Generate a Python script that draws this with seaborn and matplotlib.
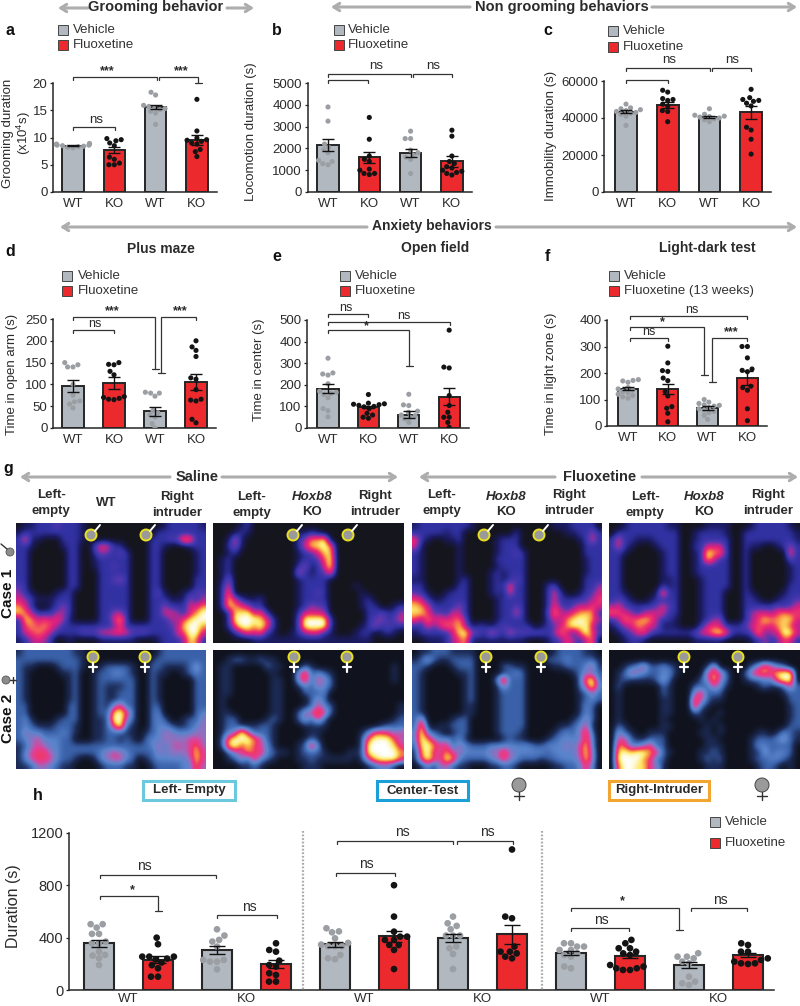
#Import packages
import matplotlib
matplotlib.use("Agg")
import matplotlib.pyplot as plt
from matplotlib.colors import LinearSegmentedColormap
from matplotlib.patches import Circle, Rectangle
import numpy as np
import pandas as pd
import seaborn as sns

#Bar groups, left to right
groups_4 = ["g1", "g2", "g3", "g4"]
groups_12 = ["g%d" % i for i in range(1, 13)]
labels_4 = ["WT", "KO", "WT", "KO"]
labels_h = ["WT", "KO", "WT", "KO", "WT", "KO"]

#Panel a: grooming
a_means = [8.5, 7.7, 15.6, 9.5]
a_sems = [0.15, 0.5, 0.45, 0.9]
a_points = [
    [8.1, 8.2, 8.3, 8.4, 8.5, 8.6, 8.6, 8.7, 8.8, 8.8, 8.9],
    [9.8, 9.6, 9.4, 9.0, 8.5, 6.4, 6.0, 5.3, 5.0, 5.0],
    [18.3, 17.8, 15.9, 15.7, 15.5, 15.3, 15.1, 14.8, 14.5, 12.4],
    [17.0, 11.2, 9.9, 9.6, 9.5, 9.3, 9.0, 8.8, 7.8, 7.4, 6.5],
]
#Panel b: locomotion
b_means = [2150, 1600, 1800, 1400]
b_sems = [260, 250, 190, 260]
b_points = [
    [3900, 3250, 2200, 2050, 1950, 1800, 1450, 1400, 1300, 1250],
    [3420, 2420, 1650, 1500, 1400, 1050, 1000, 850, 850, 800],
    [2790, 2450, 2450, 1920, 1800, 1700, 1600, 1490, 850],
    [2835, 2560, 1650, 1400, 1310, 1160, 1100, 1000, 950, 900, 850, 780],
]
#Panel c: immobility
c_means = [43500, 47000, 40500, 43000]
c_sems = [1000, 1800, 700, 3500]
c_points = [
    [47500, 45500, 45000, 44500, 44000, 43500, 43000, 42500, 42000, 41000, 36000],
    [55000, 54000, 50500, 50000, 49500, 47500, 46500, 44000, 43500, 38000],
    [45000, 42000, 41500, 41000, 40800, 40500, 40000, 39500, 39000, 38000],
    [55500, 51000, 50000, 49500, 49000, 48000, 46500, 35000, 33500, 28500, 20500],
]
#Panel d: plus maze
d_means = [96, 104, 38, 105]
d_sems = [13, 14, 10, 18]
d_points = [
    [150, 145, 140, 140, 100, 75, 62, 60, 55, 46],
    [150, 146, 145, 130, 122, 72, 70, 68, 66, 65],
    [82, 80, 80, 73, 40, 35, 30, 25, 10, 0],
    [200, 186, 178, 164, 115, 112, 88, 66, 64, 62, 20, 12],
]
#Panel e: open field
e_means = [182, 97, 62, 145]
e_sems = [22, 6, 15, 38]
e_points = [
    [323, 255, 250, 245, 205, 170, 165, 160, 155, 140, 90, 80, 52],
    [155, 115, 112, 110, 108, 105, 100, 98, 90, 68, 60, 50, 45],
    [156, 107, 104, 78, 73, 60, 57, 50, 42, 26],
    [453, 282, 278, 150, 104, 73, 50, 50, 26, 3],
]
#Panel f: light-dark
f_means = [140, 140, 68, 182]
f_sems = [6, 20, 7, 26]
f_points = [
    [175, 172, 170, 165, 145, 140, 135, 130, 125, 120, 115, 110, 105],
    [301, 238, 209, 206, 181, 171, 130, 113, 73, 67, 48, 16],
    [100, 90, 85, 80, 78, 75, 70, 65, 60, 55, 50, 40, 25],
    [300, 300, 257, 215, 210, 205, 150, 145, 135, 65, 20],
]
#Panel h: three chamber durations
h_means = [356, 233, 305, 200, 350, 410, 395, 425, 285, 262, 190, 270]
h_sems = [25, 25, 30, 30, 18, 40, 30, 75, 15, 15, 25, 15]
h_points = [
    [503, 503, 477, 429, 429, 370, 357, 357, 293, 268, 263, 242, 191],
    [400, 350, 255, 255, 255, 240, 233, 210, 190, 166, 102, 102],
    [464, 416, 383, 370, 332, 230, 230, 217, 217, 158],
    [357, 306, 293, 224, 191, 179, 128, 115, 64, 64],
    [472, 448, 441, 395, 360, 347, 335, 335, 335, 268, 242, 235],
    [801, 561, 446, 408, 408, 383, 383, 344, 344, 306, 160],
    [561, 510, 490, 464, 416, 416, 416, 332, 319, 275, 160],
    [1074, 561, 548, 332, 293, 293, 280, 255, 242],
    [357, 357, 332, 332, 306, 306, 280, 268, 255, 179, 166],
    [383, 357, 319, 319, 293, 280, 268, 191, 179, 166, 166, 153, 153],
    [281, 255, 255, 242, 217, 204, 102, 64, 51, 38],
    [357, 344, 293, 293, 242, 230, 217, 204, 204, 199],
]

#Panel g: occupancy levels, 0 dark to 9 white
g_case1_saline_wt = [
    "0112 2232 2210 0000 0000 0001 2222 21", "1222 2222 2210 0000 0000 0022 2222 22",
    "2611 0002 2210 0000 0000 0222 3387 22", "2210 0001 2200 3652 2000 0221 0001 22",
    "2200 0000 2200 2432 3200 0220 0000 12", "2200 0000 2200 1222 2200 0220 0000 12",
    "2200 0000 2200 1223 2200 0220 0000 12", "2200 0000 2200 0222 2200 0220 0000 12",
    "2200 0000 2200 0223 4200 0220 0000 22", "3200 0000 2200 0222 2200 0220 0000 22",
    "4210 0012 2000 0222 2200 0231 0012 33", "5421 1122 2000 0222 2200 0222 1114 24",
    "7520 0124 2000 0222 2200 0224 2225 57", "8742 2244 2000 0224 4200 0225 5425 79",
    "2875 6564 1000 0225 8200 0222 4468 99", "2676 7642 2222 2223 6222 2222 3489 97",
    "2567 6422 2233 3556 6533 3222 2569 95", "1245 4200 1000 0111 1110 0012 2248 72"]
g_case1_saline_ko = [
    "0000 1200 0000 0000 0000 0000 0000 00", "0001 2100 0000 0112 1000 0000 0000 00",
    "0015 1000 0000 0247 7900 0000 0000 00", "0024 1000 0000 0258 8970 0000 0000 00",
    "0012 0000 0000 0123 5880 0000 0000 00", "0120 0000 0000 0122 3690 0000 0000 00",
    "0120 0000 0000 0241 2590 0000 0000 00", "0120 0000 0000 0521 2360 0000 0000 00",
    "0140 0000 0000 0122 2200 0000 0000 00", "0250 0000 0000 0122 2200 0010 0000 00",
    "0270 0000 0000 0122 3200 0001 0000 00", "0285 2112 0000 0122 2200 0001 2000 00",
    "0287 6422 0000 0124 3300 0001 2200 12", "0028 8956 2000 0255 5400 0000 2232 24",
    "0029 9998 6200 0399 9920 0000 2342 35", "0026 9979 6200 0399 9920 0001 2423 22",
    "0002 4656 2100 1245 5210 0012 2012 10", "0000 0011 1111 1111 1111 1111 1000 00"]
g_case1_fluox_ko = [
    "1222 2222 2100 0000 0000 0011 1222 20", "2222 2122 0000 0000 2000 0000 1122 42",
    "6210 0112 0000 0122 2000 0000 0012 52", "5100 0001 0000 0122 2000 0000 0002 22",
    "2100 0001 0000 0122 3200 0000 0002 22", "2100 0001 0000 0222 2200 0000 0001 22",
    "2100 0001 0000 0122 2200 0000 0001 22", "2100 0001 0000 1212 2200 0000 0001 22",
    "1100 0001 2000 1212 3200 0000 0002 22", "2200 0002 2000 1226 2200 0230 0002 24",
    "3210 0122 2000 1215 2200 0252 0012 35", "6521 1222 2000 0122 2200 0252 2223 46",
    "8752 2224 2000 0122 3200 0263 2354 65", "8863 3254 2000 0122 5200 0375 4678 72",
    "6475 6567 3000 0122 2200 0254 7898 74", "2253 5768 4122 1232 2220 1235 7989 52",
    "1222 2258 9432 5325 3333 3247 5269 63", "0011 1246 7111 1111 1100 0123 6425 70"]
g_case1_fluox_ko2 = [
    "0012 2222 2110 0001 1110 0012 2222 10", "0222 2222 2220 0122 2210 0222 2222 21",
    "2522 1112 2220 0122 2220 0222 2222 21", "2521 0001 2220 0225 5520 0211 0012 42",
    "2210 0000 1220 0129 7720 0200 0000 62", "2200 0000 1220 0128 5220 0200 0000 32",
    "2200 0000 1220 0122 2220 0200 0000 12", "2200 0000 1220 0122 2220 0200 0000 12",
    "2200 0000 1120 0012 2220 0200 0000 12", "2200 0000 2120 0012 2220 0200 0000 22",
    "2210 0001 7220 0012 2200 0210 0001 22", "2321 0012 2220 0012 2200 0221 0012 23",
    "4532 2223 5320 0012 2200 0222 2232 35", "7654 2455 5220 0012 2200 0245 5467 66",
    "2476 7874 2210 0012 4400 0246 8778 85", "1245 7654 1110 0025 6522 2356 6578 64",
    "0123 5632 2222 2356 8962 2238 3459 95", "0012 2100 0000 0111 1100 0012 4236 52"]
g_case2_saline_wt = [
    "1222 2222 2110 0000 0000 0012 2222 22", "2222 2222 2210 0000 0000 0122 2222 22",
    "2110 0012 2210 0122 2210 0221 1112 42", "2100 0001 1200 1223 3210 0211 0012 32",
    "2100 0000 1200 1222 2220 0210 0000 22", "2100 0000 1200 1211 1220 0210 0000 22",
    "2100 0000 1200 1211 2220 0210 0000 22", "2100 0000 1200 1211 2220 0210 0000 22",
    "2200 0000 2200 1214 6220 0220 0000 22", "2200 0000 2200 1228 9620 0230 0000 23",
    "2310 0012 2200 1129 9420 0232 0012 24", "2321 1122 2100 1126 9210 0233 2112 34",
    "2433 2223 2100 1122 2110 1234 4333 44", "2345 3332 2000 1122 1210 2334 4445 54",
    "1245 4332 2222 2222 2222 2343 4545 74", "1356 6432 2222 2345 4322 2243 4445 85",
    "1356 6532 2100 1345 5320 1233 3334 85", "1124 4321 1000 0122 2110 0122 2233 74"]
g_case2_saline_ko = [
    "0000 0000 0000 0000 0000 0000 0000 00", "0012 2112 1100 0000 0000 0000 0000 00",
    "0110 0000 2110 0021 0000 0000 0000 10", "0110 0000 0100 0472 3210 0000 0000 10",
    "0110 0000 0110 0472 5420 0000 0000 10", "0110 0000 0110 0132 4320 0000 0000 00",
    "0110 0000 0110 0022 2300 0000 0000 00", "0100 0000 0110 0002 4200 0000 0000 00",
    "0100 0000 0110 0012 5320 0000 0000 01", "0110 0000 0110 0245 8520 0000 0000 01",
    "0122 0000 1210 0242 5200 0000 0000 12", "0122 1112 2100 0011 1100 0000 0012 22",
    "0134 9522 2100 0001 1000 0001 3665 45", "0279 9975 2100 0012 1000 0002 7999 64",
    "0289 6865 3100 0127 3000 0002 9999 85", "0024 5766 3211 0122 2100 0112 9999 97",
    "0012 4263 2100 0112 1111 1102 5899 96", "0000 1121 0000 0011 1000 0000 1233 10"]
g_case2_fluox_ko = [
    "0112 2211 1100 0000 0000 0012 2221 10", "1242 1122 2200 0000 0000 0222 3222 21",
    "2210 0012 2200 0022 1100 0011 2223 51", "2100 0001 1200 0012 3200 0000 0124 32",
    "2100 0000 1200 0382 2200 0000 0027 92", "2100 0000 1200 0142 2200 0000 0025 93",
    "2100 0000 1200 0122 2200 0000 0012 42", "2100 0000 1200 0122 2200 0000 0012 32",
    "2100 0000 1100 0122 2200 0000 0013 20", "2100 0000 1100 0122 2200 0000 0013 20",
    "2500 0012 2000 0122 2200 0000 0124 20", "2810 1122 2000 0122 2200 0001 1235 10",
    "3932 1012 2000 0122 2100 0012 3247 20", "3974 3323 1000 0012 1100 0123 3337 30",
    "2897 5624 3222 3333 3332 2333 4358 30", "1795 5754 3333 4474 3333 3233 3358 40",
    "1696 5973 2222 3464 3222 1223 3348 40", "0131 4421 1000 1122 1000 0011 2236 30"]
g_case2_fluox_ko2 = [
    "0000 0000 0000 0000 0000 0000 0000 00", "0000 0000 0000 0000 0000 0000 0000 00",
    "0012 3522 3210 0001 5000 0024 7532 00", "0125 4322 3310 0005 7520 0257 7689 90",
    "0121 1112 4200 0024 8420 0122 3379 90", "0200 0000 2100 0222 5310 0001 2112 52",
    "0100 0000 2100 0462 2200 0000 0001 22", "0100 0000 1100 0752 1100 0000 0000 22",
    "0100 0000 1100 0721 0000 0000 0000 12", "0100 0000 1100 0210 0100 0000 0000 12",
    "0100 0000 1000 0010 1000 0000 0000 12", "0210 0000 1100 0001 0100 0000 0000 22",
    "0421 0011 1000 0011 0100 0001 1013 21", "0552 1122 2000 0001 1000 0012 2234 21",
    "0763 3462 2000 0001 1100 0013 3222 20", "0898 9976 2100 0011 2100 0011 4233 20",
    "0999 9762 2000 0012 1200 0012 2332 10", "0799 8854 1000 0001 1100 0001 2210 10"]

#Colours
grey_bar = "#b1b8bf"
red_bar = "#ec2a2e"
grey_dot = "#9b9fa4"
black_dot = "#141414"
text_col = "#2b2b2b"
case1_colors = ["#15151e", "#1b1b62", "#3232a4", "#5238b0", "#a02c98", "#da2080", "#f03868", "#f89040", "#fde868", "#ffffff"]
case2_colors = ["#10131e", "#1c2a55", "#3a62aa", "#5a84cc", "#9070c0", "#e04098", "#f03868", "#f89040", "#fde868", "#ffffff"]

sns.set_theme(style="ticks")
plt.rcParams["font.family"] = ["Liberation Sans", "DejaVu Sans"]
plt.rcParams["mathtext.default"] = "regular"
plt.rcParams["axes.linewidth"] = 1.1

W, H = 800, 1006
fig = plt.figure(figsize=(W / 100, H / 100), dpi=100, facecolor="white")


#Axes placed from pixel box of the reference
def px_axes(left, top, right, bottom):
    return fig.add_axes([left / W, 1 - bottom / H, (right - left) / W, (bottom - top) / H])


#One bar panel: bars, swarm of animals, sem bars
def bar_panel(box, first, step, ymax, ticks, ids, means, sems, points, ylabel, label_px, xticks, xlabels, tick_fs=9.5, label_fs=9.5, dot=3.7, capsize=4, bar_lw=1.4, xpad=4.5):
    left, top, right, bottom = box
    ax = px_axes(left, top, right, bottom)
    colours = [grey_bar, red_bar] * (len(ids) // 2)
    dots = [grey_dot, black_dot] * (len(ids) // 2)
    sns.barplot(x=ids, y=means, hue=ids, order=ids, hue_order=ids, palette=colours, saturation=1, width=0.52, edgecolor="#262626", linewidth=bar_lw, errorbar=None, legend=False, ax=ax)
    df = pd.DataFrame({"group": np.repeat(ids, [len(p) for p in points]), "value": np.concatenate(points)})
    sns.swarmplot(data=df, x="group", y="value", hue="group", order=ids, hue_order=ids, palette=dots, size=dot, legend=False, warn_thresh=1, ax=ax, zorder=3)
    ax.errorbar(range(len(ids)), means, yerr=sems, fmt="none", ecolor="#111111", elinewidth=1.0, capsize=capsize, capthick=1.0, zorder=4)
    ax.set_xlim((left - first) / step, (right - first) / step)
    ax.set_ylim(0, ymax)
    ax.set_yticks(ticks)
    ax.set_xticks(xticks)
    ax.set_xticklabels(xlabels, color=text_col, fontsize=9.5)
    ax.tick_params(axis="x", length=0, pad=xpad)
    ax.tick_params(axis="y", length=2.5, width=0.9, pad=1.5, labelsize=tick_fs, labelcolor=text_col)
    ax.set_xlabel("")
    ax.set_ylabel(ylabel, color=text_col, fontsize=label_fs, linespacing=1.1, va="center")
    ax.yaxis.set_label_coords((label_px[0] - left) / (right - left), (bottom - label_px[1]) / (bottom - top))
    ax.patch.set_alpha(0)
    sns.despine(ax=ax)
    return ax


four = [0, 1, 2, 3]
bar_panel((53, 83, 217, 192), 73, 41.3, 20, [0, 5, 10, 15, 20], groups_4, a_means, a_sems, a_points, "Grooming duration\n(x10$^{4}$s)", (17.5, 133), four, labels_4)
bar_panel((307.5, 83, 472, 192), 328, 41.3, 5000, [0, 1000, 2000, 3000, 4000, 5000], groups_4, b_means, b_sems, b_points, "Locomotion duration (s)", (251, 132), four, labels_4)
bar_panel((604, 81, 771, 192), 626, 41.7, 60000, [0, 20000, 40000, 60000], groups_4, c_means, c_sems, c_points, "Immobility duration (s)", (551, 136), four, labels_4)
bar_panel((53, 319, 216, 428), 73, 41, 250, [0, 50, 100, 150, 200, 250], groups_4, d_means, d_sems, d_points, "Time in open arm (s)", (12, 374), four, labels_4)
bar_panel((307, 320, 469, 428), 328, 40.4, 500, [0, 100, 200, 300, 400, 500], groups_4, e_means, e_sems, e_points, "Time in center (s)", (259, 370), four, labels_4)
bar_panel((607, 320, 767, 426), 628, 39.8, 400, [0, 100, 200, 300, 400], groups_4, f_means, f_sems, f_points, "Time in light zone (s)", (551, 374), four, labels_4)
bar_panel((69, 833, 774, 990), 99, 59.0, 1200, [0, 400, 800, 1200], groups_12, h_means, h_sems, h_points, "Duration (s)", (14, 906), [0.5, 2.5, 4.5, 6.5, 8.5, 10.5], labels_h, tick_fs=10.5, label_fs=11.5, dot=4.8, capsize=5.5, bar_lw=1.5, xpad=2.5)

#Panel g heat maps
cmap1 = LinearSegmentedColormap.from_list("case1", case1_colors)
cmap2 = LinearSegmentedColormap.from_list("case2", case2_colors)
g_rows = [(g_case1_saline_wt, 16, 206, 523, 643, cmap1), (g_case1_saline_ko, 213, 404, 523, 643, cmap1),
          (g_case1_fluox_ko, 412, 602, 523, 643, cmap1), (g_case1_fluox_ko2, 609, 800, 523, 643, cmap1),
          (g_case2_saline_wt, 16, 206, 650, 769, cmap2), (g_case2_saline_ko, 213, 404, 650, 769, cmap2),
          (g_case2_fluox_ko, 412, 602, 650, 769, cmap2), (g_case2_fluox_ko2, 609, 800, 650, 769, cmap2)]
for rows, x0, x1, y0, y1, cmap in g_rows:
    ax = px_axes(x0, y0, x1, y1)
    grid = np.array([[int(c) for c in row if c != " "] for row in rows])
    ax.imshow(grid, cmap=cmap, vmin=0, vmax=9, aspect="auto", interpolation="bicubic")
    ax.axis("off")

#Overlay in pixel units for brackets, arrows and labels
ov = fig.add_axes([0, 0, 1, 1], zorder=10)
ov.set_xlim(0, W)
ov.set_ylim(H, 0)
ov.axis("off")


def txt(x, y, s, size=9.5, weight="normal", ha="center", color=text_col, **kw):
    ov.text(x, y, s, fontsize=size, fontweight=weight, ha=ha, va="center", color=color, **kw)


#Bracket with small ticks; a longer drop on one side ends in a T cap
def bracket(x0, x1, y, ldrop=3, rdrop=3):
    ov.plot([x0, x0, x1, x1], [y + ldrop, y, y, y + rdrop], color="#333333", lw=0.9, solid_joinstyle="miter")
    if ldrop > 3:
        ov.plot([x0 - 3.5, x0 + 3.5], [y + ldrop, y + ldrop], color="#333333", lw=0.9)
    if rdrop > 3:
        ov.plot([x1 - 3.5, x1 + 3.5], [y + rdrop, y + rdrop], color="#333333", lw=0.9)


def arrow(x0, x1, y, style):
    ov.annotate("", xy=(x1, y), xytext=(x0, y), arrowprops=dict(arrowstyle=style + ",head_length=0.35,head_width=0.22", color="#adadad", lw=2.2, shrinkA=0, shrinkB=0))


def legend_pair(x, y1, y2, tx, t1, t2, side=9.5):
    ov.add_patch(Rectangle((x, y1 - 5), side, 10, facecolor=grey_bar, edgecolor="#444444", lw=0.7))
    ov.add_patch(Rectangle((x, y2 - 5), side, 10, facecolor=red_bar, edgecolor="#444444", lw=0.7))
    txt(tx, y1, "Vehicle", ha="left", color="#333333")
    txt(tx, y2, "Fluoxetine" + t2, ha="left", color="#333333")


#Section headers
arrow(88, 58, 8, "->")
arrow(227, 254, 8, "->")
txt(156, 7, "Grooming behavior", size=10.5, weight="bold")
arrow(470, 331, 7, "->")
arrow(652, 797, 7, "->")
txt(562, 7, "Non grooming behaviors", size=10.5, weight="bold")
arrow(367, 60, 227, "->")
arrow(496, 797, 227, "->")
txt(432, 226, "Anxiety behaviors", size=10, weight="bold")
arrow(170, 20, 477, "->")
arrow(222, 398, 477, "->")
txt(197, 477, "Saline", size=10.5, weight="bold")
arrow(555, 419, 477, "->")
arrow(642, 798, 477, "->")
txt(600, 477, "Fluoxetine", size=10.5, weight="bold")
txt(161, 249, "Plus maze", size=10, weight="bold")
txt(435, 248, "Open field", size=10, weight="bold")
txt(707, 248, "Light-dark test", size=10, weight="bold")

#Panel letters
for x, y, s in [(10, 30, "a"), (277, 30, "b"), (548, 30, "c"), (10, 251, "d"), (277, 256, "e"), (547, 256, "f"), (8, 469, "g"), (38, 795, "h")]:
    txt(x, y, s, size=11.5, weight="bold", color="#111111")

#Legends
legend_pair(58, 30, 45, 73, "Vehicle", "")
legend_pair(334, 30, 45, 348, "Vehicle", "")
legend_pair(608, 31, 47, 623, "Vehicle", "")
legend_pair(62, 276, 291, 78, "Vehicle", "")
legend_pair(340, 276, 291, 355, "Vehicle", "")
legend_pair(609, 276, 291, 624, "Vehicle", " (13 weeks)")
legend_pair(710, 822, 843, 725, "Vehicle", "")

#Significance brackets
bracket(73, 115, 127); txt(96, 120, "ns")
bracket(73, 157, 77); txt(107, 71, "***", size=9, weight="bold")
bracket(159, 198, 77, rdrop=6); txt(181, 71, "***", size=9, weight="bold")
bracket(328, 411, 74); txt(376, 66, "ns")
bracket(413, 452, 74); txt(433, 66, "ns")
bracket(328, 368, 80)
bracket(626, 710, 68); txt(669, 60, "ns")
bracket(712, 751, 68); txt(732, 60, "ns")
bracket(626, 668, 80)
bracket(73, 114, 330); txt(95, 324, "ns", size=9)
bracket(73, 155, 317, rdrop=52); txt(112, 311, "***", size=9, weight="bold")
bracket(161, 196, 317, ldrop=56); txt(180, 311, "***", size=9, weight="bold")
bracket(328, 368, 314); txt(346, 308, "ns", size=9)
bracket(328, 450, 322); txt(404, 316, "ns", size=9)
bracket(328, 409, 330, rdrop=36); txt(366, 326, "*", size=9, weight="bold")
bracket(630, 668, 338); txt(649, 332, "ns", size=9)
bracket(630, 704, 327, rdrop=48); txt(662, 322, "*", size=9, weight="bold")
bracket(630, 747, 316); txt(692, 310, "ns", size=9)
bracket(712, 747, 338, ldrop=44); txt(731, 332, "***", size=9, weight="bold")
bracket(100, 216, 875); txt(144, 866, "ns", size=10)
bracket(100, 158, 896, rdrop=15); txt(132, 890, "*", size=9, weight="bold")
bracket(217, 277, 915); txt(249, 907, "ns", size=10)
bracket(336, 395, 873); txt(366, 864, "ns", size=10)
bracket(337, 453, 841); txt(402, 832, "ns", size=10)
bracket(457, 513, 841); txt(487, 832, "ns", size=10)
bracket(571, 629, 928); txt(601, 920, "ns", size=10)
bracket(571, 679, 908, rdrop=22); txt(622, 901, "*", size=9, weight="bold")
bracket(691, 747, 908); txt(720, 900, "ns", size=10)

#Dotted chamber dividers in h
for x in [303, 542]:
    ov.plot([x, x], [831, 990], color="#a9abae", lw=1.6, ls=(0, (0.8, 0.8)))

#Dotted chamber dividers in g
for y0, y1 in [(523, 643), (650, 769)]:
    for x in [83, 135, 284.5, 337, 475, 527, 675, 728]:
        ov.plot([x, x], [y0 + 2, y1], color="white", lw=2.5, ls=(0, (0, 2.55)), dash_capstyle="round")


def mouse(x, y, sign, r=5.5):
    ov.add_patch(Circle((x, y), r, facecolor="#9a9a9a", edgecolor="#e8e020", lw=1.4))
    if sign == "male":
        ov.plot([x + 4, x + 9], [y - 4, y - 10], color="white", lw=1.4)
    else:
        ov.plot([x, x], [y + 6, y + 15], color="white", lw=1.6)
        ov.plot([x - 4, x + 4], [y + 10, y + 10], color="white", lw=1.6)


for x in [91, 146, 293, 348, 484, 539]:
    mouse(x, 535, "male")
for x in [93, 145, 294, 347, 486, 541, 684, 738]:
    mouse(x, 657, "female")

#Column headers of g
for x, y, a, b in [(51, 503, "Left-", "empty"), (177, 505, "Right", "intruder"), (252, 505, "Left-", "empty"), (375, 504, "Right", "intruder"),
                   (442, 503, "Left-", "empty"), (569, 503, "Right", "intruder"), (645, 505, "Left-", "empty"), (768, 503, "Right", "intruder")]:
    txt(x, y - 8, a, size=9.5, weight="bold")
    txt(x, y + 8, b, size=9.5, weight="bold")
txt(106, 503, "WT", weight="bold")
for x in [312, 506, 704]:
    txt(x, 497, "Hoxb8", weight="bold", style="italic")
    txt(x, 512, "KO", weight="bold")

#Case labels and side symbols
txt(8, 593, "Case 1", size=11, weight="bold", rotation=90, color="#111111")
txt(8, 718, "Case 2", size=11, weight="bold", rotation=90, color="#111111")
ov.add_patch(Circle((10, 552), 4, facecolor="#8c8c8c", edgecolor="#555555", lw=0.6))
ov.plot([7, 1], [549, 544], color="#333333", lw=1)
ov.add_patch(Circle((6, 680), 4, facecolor="#8c8c8c", edgecolor="#555555", lw=0.6))
ov.plot([10, 16], [680, 680], color="#333333", lw=1)
ov.plot([13, 13], [677, 683], color="#333333", lw=1)

#Chamber boxes of h
for x0, x1, edge, s in [(143, 235, "#6cc8dc", "Left- Empty"), (377, 468, "#1a9fd8", "Center-Test"), (609, 709, "#f2a531", "Right-Intruder")]:
    ov.add_patch(Rectangle((x0, 781), x1 - x0, 19, facecolor="white", edgecolor=edge, lw=2.2))
    txt((x0 + x1) / 2, 790.5, s, size=9.5, weight="bold")
for x in [519, 762]:
    ov.add_patch(Circle((x, 785), 7, facecolor="#9a9a9a", edgecolor="#444444", lw=0.7))
    ov.plot([x, x], [792, 800], color="#333333", lw=1)
    ov.plot([x - 5, x + 5], [796, 796], color="#333333", lw=1)

plt.savefig("out.png", dpi=100) #Export figure
